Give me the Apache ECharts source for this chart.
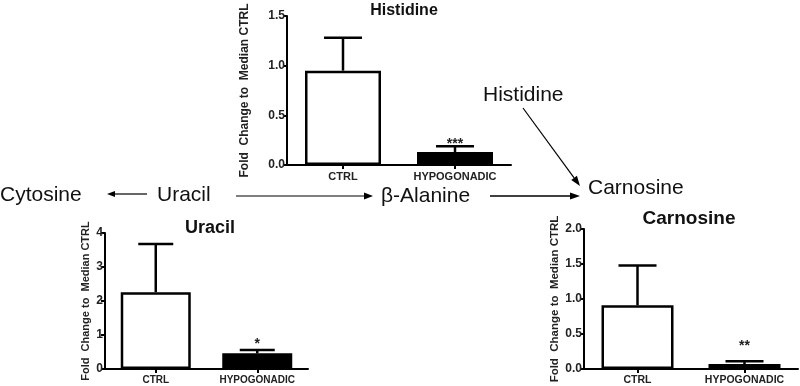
<!DOCTYPE html>
<html>
<head>
<meta charset="utf-8">
<script src="https://cdn.jsdelivr.net/npm/echarts@6/dist/echarts.min.js"></script>
<style>
  html, body { margin: 0; padding: 0; background: #fff; }
  #chart { width: 800px; height: 386px; }
</style>
</head>
<body>
<div id="chart"></div>
<script>
// data
var categories = ['CTRL', 'HYPOGONADIC']
var histidineMean = [0.95, 0.13]
var histidineErr = [0.33, 0.06]
var histidineSig = ['', '***']
var uracilMean = [2.26, 0.46]
var uracilErr = [1.42, 0.10]
var uracilSig = ['', '*']
var carnosineMean = [0.91, 0.07]
var carnosineErr = [0.57, 0.04]
var carnosineSig = ['', '**']
var yName = 'Fold  Change to  Median CTRL'

var fontFam = '"Liberation Sans", Arial, sans-serif'

var chart = echarts.init(document.getElementById('chart'))

function xAxisFor(grid, fontSize) {
  return {
    type: 'category',
    gridIndex: grid,
    data: categories,
    axisLine: { lineStyle: { color: '#000', width: 2 } },
    axisTick: { show: true, alignWithLabel: true, length: 4, lineStyle: { color: '#000', width: 2 } },
    axisLabel: { color: '#222', fontWeight: 'bold', fontSize: fontSize, fontFamily: fontFam, margin: 6 }
  }
}

function yAxisFor(grid, max, interval, digits, nameSize, nameGap) {
  return {
    type: 'value',
    gridIndex: grid,
    min: 0,
    max: max,
    interval: interval,
    name: yName,
    nameLocation: 'middle',
    nameGap: nameGap,
    nameTextStyle: { color: '#222', fontWeight: 'bold', fontSize: nameSize, fontFamily: fontFam },
    splitLine: { show: false },
    axisLine: { show: true, lineStyle: { color: '#000', width: 2 } },
    axisTick: { show: true, length: 4, lineStyle: { color: '#000', width: 2 } },
    axisLabel: {
      color: '#222', fontWeight: 'bold', fontSize: 12, fontFamily: fontFam, margin: 2,
      formatter: function (v) { return v.toFixed(digits) }
    }
  }
}

function barSeries(idx, means, barWidth) {
  return {
    type: 'bar',
    xAxisIndex: idx,
    yAxisIndex: idx,
    barWidth: barWidth,
    data: means.map(function (m, i) {
      return {
        value: m,
        itemStyle: { color: i === 0 ? '#fff' : '#000', borderColor: '#000', borderWidth: 2.5 }
      }
    }),
    animation: false
  }
}

function errSeries(idx, means, errs, sig, capW, starGap) {
  return {
    type: 'custom',
    xAxisIndex: idx,
    yAxisIndex: idx,
    data: means.map(function (m, i) { return [i, m, m + errs[i], sig[i]] }),
    renderItem: function (params, api) {
      var base = api.coord([api.value(0), api.value(1)])
      var top = api.coord([api.value(0), api.value(2)])
      var s = sig[params.dataIndex]
      var kids = [
        { type: 'line', shape: { x1: base[0], y1: base[1], x2: top[0], y2: top[1] }, style: { stroke: '#000', lineWidth: 2.5 } },
        { type: 'line', shape: { x1: top[0] - capW / 2, y1: top[1], x2: top[0] + capW / 2, y2: top[1] }, style: { stroke: '#000', lineWidth: 2.5 } }
      ]
      if (s) {
        kids.push({
          type: 'text',
          style: {
            text: s, x: top[0], y: top[1] - starGap, align: 'center', verticalAlign: 'middle',
            fill: '#222', font: 'bold 14px ' + fontFam
          }
        })
      }
      return { type: 'group', children: kids }
    },
    z: 10,
    animation: false
  }
}

function arrow(x1, y1, x2, y2, head, w, lw) {
  var ang = Math.atan2(y2 - y1, x2 - x1)
  var bx = x2 - head * Math.cos(ang)
  var by = y2 - head * Math.sin(ang)
  var px = -Math.sin(ang) * w / 2
  var py = Math.cos(ang) * w / 2
  return [
    { type: 'line', shape: { x1: x1, y1: y1, x2: bx, y2: by }, style: { stroke: '#000', lineWidth: lw } },
    { type: 'polygon', shape: { points: [[x2, y2], [bx + px, by + py], [bx - px, by - py]] }, style: { fill: '#000' } }
  ]
}

function word(text, x, y) {
  return {
    type: 'text', x: x, y: y,
    style: { text: text, fill: '#111', font: '21px ' + fontFam, verticalAlign: 'middle' }
  }
}

var graphics = [
  word('Cytosine', 0, 195),
  word('Uracil', 157, 195),
  word('β-Alanine', 381, 196),
  word('Carnosine', 588, 188),
  word('Histidine', 483, 95)
]
graphics = graphics
  .concat(arrow(147, 194, 107, 194, 8, 6, 1.2))
  .concat(arrow(236, 196, 373, 196, 9, 7, 1.2))
  .concat(arrow(490, 196, 580, 196, 10, 7, 1.6))
  .concat(arrow(523, 108, 580, 186, 10, 7, 1.2))

chart.setOption({
  backgroundColor: '#fff',
  animation: false,
  title: [
    { text: 'Histidine', left: 399, top: -2, textAlign: 'center', textStyle: { color: '#111', fontWeight: 'bold', fontSize: 16, fontFamily: fontFam } },
    { text: 'Uracil', left: 205, top: 214, textAlign: 'center', textStyle: { color: '#111', fontWeight: 'bold', fontSize: 18, fontFamily: fontFam } },
    { text: 'Carnosine', left: 684, top: 204, textAlign: 'center', textStyle: { color: '#111', fontWeight: 'bold', fontSize: 19, fontFamily: fontFam } }
  ],
  grid: [
    { left: 287, top: 16, width: 224, height: 149 },
    { left: 105, top: 233, width: 203, height: 136 },
    { left: 584, top: 229, width: 214, height: 140 }
  ],
  xAxis: [xAxisFor(0, 11), xAxisFor(1, 10), xAxisFor(2, 10.5)],
  yAxis: [
    yAxisFor(0, 1.5, 0.5, 1, 12, 36),
    yAxisFor(1, 4, 1, 0, 11, 14),
    yAxisFor(2, 2, 0.5, 1, 11.5, 23)
  ],
  series: [
    barSeries(0, histidineMean, 76),
    errSeries(0, histidineMean, histidineErr, histidineSig, 38, 2),
    barSeries(1, uracilMean, 70),
    errSeries(1, uracilMean, uracilErr, uracilSig, 35, 6),
    barSeries(2, carnosineMean, 72),
    errSeries(2, carnosineMean, carnosineErr, carnosineSig, 38, 15)
  ],
  graphic: graphics
})
</script>
</body>
</html>
